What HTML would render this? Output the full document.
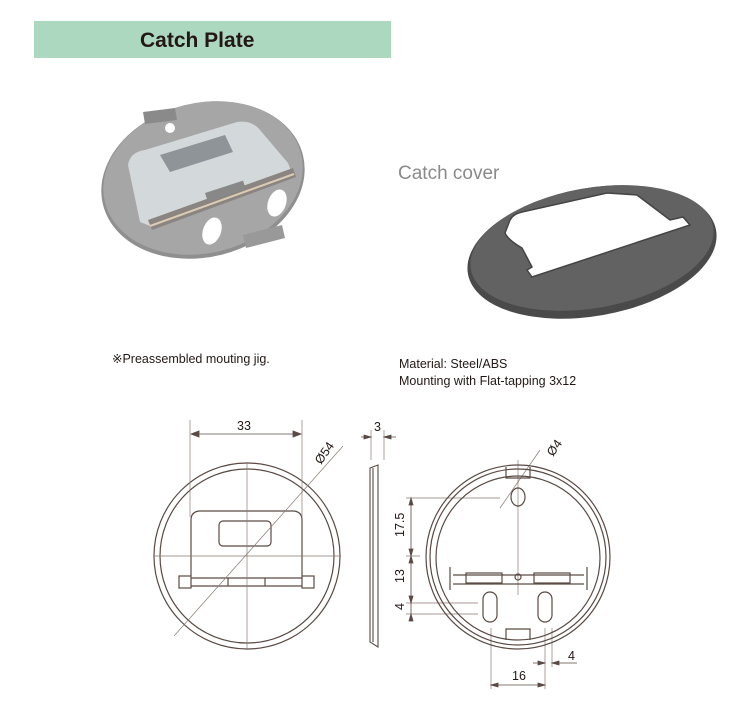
<!DOCTYPE html>
<html><head><meta charset="utf-8"><style>
body{margin:0;width:737px;height:709px;background:#fff;overflow:hidden;font-family:"Liberation Sans",sans-serif;position:relative}
.t{position:absolute;white-space:nowrap}
</style></head><body>
<div style="position:absolute;left:34px;top:21px;width:357px;height:37px;background:#acd8bf"></div>
<div class="t" style="left:140px;top:29px;font-size:21px;font-weight:bold;color:#231815">Catch Plate</div>
<div class="t" style="left:398px;top:163px;font-size:19px;color:#8a8a8a">Catch cover</div>
<div class="t" style="left:112px;top:351px;font-size:12.5px;color:#231815">※Preassembled mouting jig.</div>
<div class="t" style="left:399px;top:356px;font-size:12.5px;color:#231815;line-height:17px">Material: Steel/ABS<br>Mounting with Flat-tapping 3x12</div>
<svg width="737" height="709" style="position:absolute;left:0;top:0">
<g>
<ellipse cx="203" cy="180" rx="103" ry="77" transform="rotate(-14 203 180)" fill="#8f8f8f"/>
<ellipse cx="203" cy="178" rx="101" ry="75" transform="rotate(-14 203 178)" fill="#a6a6a6"/>
<path d="M143 112 L175 108 L177 120 L145 124 Z" fill="#8a8a8a"/>
<circle cx="170" cy="128" r="5" fill="#fff"/>
<path d="M128 165 Q130 152 145 150 L237 122 Q252 120 260 130 L288 163 L293 176 L150 226 L140 222 Z" fill="#d3d8db"/>
<path d="M148 220 L293 168 L296 177 L152 230 Z" fill="#8a8580"/>
<path d="M150 226 L294 174" stroke="#dccbb4" stroke-width="2"/>
<path d="M160 155 L225 135 L233 152 L170 172 Z" fill="#8e9497"/>
<rect x="205" y="193" width="40" height="9" transform="rotate(-18 205 193)" fill="#888"/>
<ellipse cx="212" cy="231" rx="9" ry="14" transform="rotate(20 212 231)" fill="#fff"/>
<ellipse cx="277" cy="203" rx="9" ry="14" transform="rotate(20 277 203)" fill="#fff"/>
<path d="M243 235 L282 225 L285 238 L246 248 Z" fill="#999"/>
</g>
<g>
<ellipse cx="592" cy="252" rx="126" ry="64" transform="rotate(-10 592 252)" fill="#4a4a4a"/>
<ellipse cx="592" cy="248" rx="123" ry="60" transform="rotate(-10 592 248)" fill="#626262"/>
<path d="M505 233 L510 220 Q513 214 522 212 L607 193 L637 195 L670 220 L683 217 L690 225 L532 277 L527 270 L532 267 L522 248 Q508 240 505 233 Z" fill="#fff" stroke="#444" stroke-width="1.5"/>
</g>
<g fill="none" stroke="#5a4a44" stroke-width="1.2">
<circle cx="247" cy="556" r="93"/><circle cx="247" cy="556" r="87"/>
<path d="M191 576 V520 Q191 512 199 511 H294 Q302 512 302 520 V576" />
<rect x="219" y="521" width="52" height="25" rx="4"/>
<rect x="179" y="576" width="12" height="12"/><rect x="302" y="576" width="12" height="12"/>
<path d="M191 578 H302 M191 586 H302 M228 578 V586 M265 578 V586"/>
</g>
<g stroke="#8a7a74" stroke-width="0.7" fill="none">
<path d="M153 556 H341 M247 462 V650"/>
<path d="M190 420 V517 M302 420 V517"/>
<path d="M174 636 L343 446"/>
<path d="M384 430 V460 M371 430 V460"/>
<path d="M406 498 H500 M406 556 H420 M406 603 H478 M406 614 H478"/>
<path d="M491 628 V689 M545 628 V689 M552 628 V667"/>
<path d="M540 450 L500 508"/>
<path d="M518 460 V595"/>
</g>
<g stroke="#5a4a44" stroke-width="0.8" fill="#5a4a44">
<path d="M191 434 H301" fill="none"/>
<path d="M191 434 l8 -3 v6 z M301 434 l-8 -3 v6 z"/>
<path d="M361 437 H371 M384 437 H396" fill="none"/>
<path d="M371 437 l-7 -2 v4 z M384 437 l7 -2 v4 z"/>
<path d="M411 498 V614" fill="none"/>
<path d="M411 498 l-2 7 h4 z M411 556 l-2 -7 h4 z M411 556 l-2 7 h4 z M411 603 l-2 -7 h4 z M411 614 l-2 7 h4z"/>
<path d="M491 685 H545" fill="none"/>
<path d="M491 685 l7 -2 v4 z M545 685 l-7 -2 v4 z"/>
<path d="M533 663 H545 M552 663 H577" fill="none"/>
<path d="M545 663 l-7 -2 v4 z M552 663 l7 -2 v4z"/>
</g>
<path d="M370 468 L378 465 V647 L370 642 Z M373 468 V642" fill="none" stroke="#5a4a44" stroke-width="1.1"/>
<g fill="none" stroke="#5a4a44" stroke-width="1.2">
<circle cx="518" cy="557" r="92"/><circle cx="518" cy="557" r="88"/><circle cx="518" cy="558" r="82"/>
<ellipse cx="518" cy="497" rx="7" ry="9"/>
<path d="M506 467 V478 H530 V467"/>
<path d="M453 575 H584 M453 584 H584 M450 567 V590 M587 567 V590"/>
<rect x="466" y="573" width="36" height="10"/><rect x="534" y="573" width="36" height="10"/>
<circle cx="518" cy="577" r="3"/>
<rect x="483" y="592" width="14" height="30" rx="7"/><rect x="538" y="592" width="14" height="30" rx="7"/>
<path d="M506 640 V629 H530 V640"/>
</g>
<g font-family="Liberation Sans,sans-serif" font-size="12.5" fill="#231815">
<text x="237" y="430">33</text>
<text x="374" y="431">3</text>
<text x="0" y="0" transform="translate(321 465) rotate(-55)">Ø54</text>
<text x="0" y="0" transform="translate(553 457) rotate(-55)">Ø4</text>
<text x="0" y="0" transform="translate(404 537) rotate(-90)">17.5</text>
<text x="0" y="0" transform="translate(404 583) rotate(-90)">13</text>
<text x="0" y="0" transform="translate(404 610) rotate(-90)">4</text>
<text x="568" y="660">4</text>
<text x="512" y="680">16</text>
</g>
</svg>
</body></html>
